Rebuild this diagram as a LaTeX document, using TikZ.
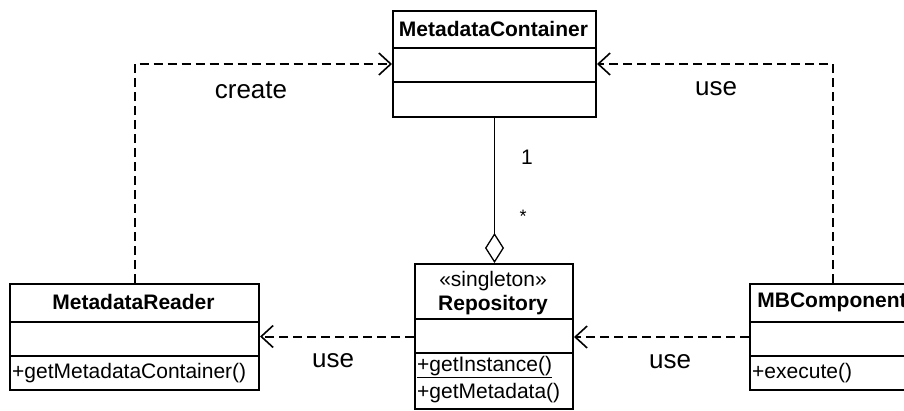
\documentclass[tikz,border=0pt]{standalone}
\usepackage{fontspec}
\setmainfont{Liberation Sans}
\usetikzlibrary{arrows.meta}
\begin{document}
\begin{tikzpicture}[x=1pt,y=-1pt,
  box/.style={draw,line width=2pt,inner sep=0pt,anchor=north west},
  cls/.style={font=\fontsize{21}{25}\selectfont\bfseries,inner sep=0pt},
  txt/.style={font=\fontsize{21}{25}\selectfont,inner sep=0pt},
  meth/.style={font=\fontsize{21}{25}\selectfont,inner sep=0pt,anchor=west},
  lbl/.style={font=\fontsize{26}{30}\selectfont,inner sep=0pt},
  mult/.style={font=\fontsize{18}{22}\selectfont,inner sep=0pt},
  dep/.style={line width=2pt,dash pattern=on 9pt off 5pt,-{Straight Barb[length=12pt,width=22pt,line width=1.6pt]}},
  agg/.style={line width=1.3pt,-{Diamond[open,length=30pt,width=19pt,line width=1.3pt]}},
  div/.style={line width=2pt}]
\useasboundingbox (0,0) rectangle (904,410);
\clip (0,0) rectangle (904,410);
\fill[white] (0,0) rectangle (904,410);

% MetadataContainer
\node[box,minimum width=203pt,minimum height=106pt] (mc) at (392,10) {};
\draw[div] ([yshift=-38pt]mc.north west) -- ([yshift=-38pt]mc.north east);
\draw[div] ([yshift=-72pt]mc.north west) -- ([yshift=-72pt]mc.north east);
\node[cls] (mcname) at (493.5,29) {MetadataContainer};

% Repository
\node[box,minimum width=158pt,minimum height=145pt] (rep) at (414,263) {};
\draw[div] ([yshift=-56pt]rep.north west) -- ([yshift=-56pt]rep.north east);
\draw[div] ([yshift=-90pt]rep.north west) -- ([yshift=-90pt]rep.north east);
\node[txt] (repst) at (493,281) {«singleton»};
\node[cls] (repname) at (493,305) {Repository};
\node[meth] (repm1) at (417,367) {\underline{+getInstance()}};
\node[meth] (repm2) at (417,393) {+getMetadata()};

% MetadataReader
\node[box,minimum width=249pt,minimum height=106pt] (mr) at (9,283) {};
\draw[div] ([yshift=-39pt]mr.north west) -- ([yshift=-39pt]mr.north east);
\draw[div] ([yshift=-73pt]mr.north west) -- ([yshift=-73pt]mr.north east);
\node[cls] (mrname) at (133.5,302) {MetadataReader};
\node[meth] (mrm1) at (12,373) {+getMetadataContainer()};

% MBComponent
\node[box,minimum width=166pt,minimum height=106pt] (mb) at (749,283) {};
\draw[div] ([yshift=-39pt]mb.north west) -- ([yshift=-39pt]mb.north east);
\draw[div] ([yshift=-73pt]mb.north west) -- ([yshift=-73pt]mb.north east);
\node[cls] (mbname) at (832,302) {MBComponent};
\node[meth] (mbm1) at (752,373) {+execute()};

% connectors
\draw[dep] (mr.north) |- (mc.west);
\draw[dep] (mb.north) |- (mc.east);
\draw[dep] (rep.west) -- (mr.east|-rep.west);
\draw[dep] (mb.west) -- (rep.east|-mb.west);
\draw[agg] (mc.south) -- (mc.south|-rep.north);

% labels
\node[lbl] (lcreate) at (251,90) {create};
\node[lbl] (luse1) at (716,89) {use};
\node[lbl] (luse2) at (333,361) {use};
\node[lbl] (luse3) at (670,362) {use};
\node[txt] (lone) at (527,157) {1};
\node[mult] (lstar) at (523,216) {*};
\end{tikzpicture}
\end{document}
